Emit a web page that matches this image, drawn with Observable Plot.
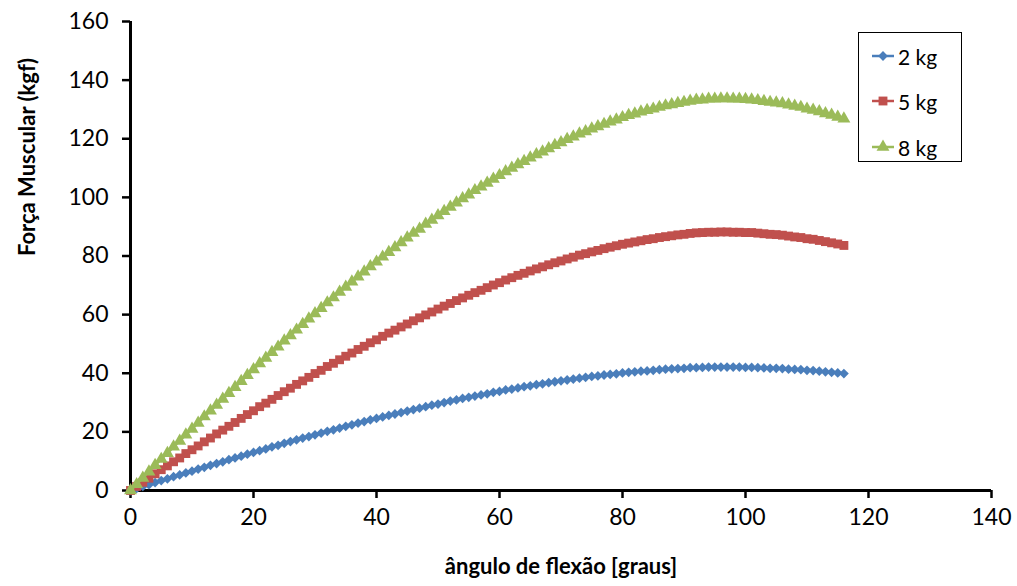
<!DOCTYPE html>
<html>
<head>
<meta charset="utf-8">
<script src="https://cdn.jsdelivr.net/npm/d3@7"></script>
<script src="https://cdn.jsdelivr.net/npm/@observablehq/plot@0.6"></script>
<style>
  html, body { margin: 0; padding: 0; background: #fff; }
  #wrap { position: relative; width: 1017px; height: 586px; font-family: Lato, "Liberation Sans", sans-serif; }
  #legend { position: absolute; left: 858px; top: 32px; width: 104px; height: 130px; border: 1.5px solid #000; background: #fff; box-sizing: border-box; }
  .item { position: absolute; left: 12px; height: 24px; display: flex; align-items: center; font-size: 21px; color: #000; }
  .item svg { margin-right: 3px; }
</style>
</head>
<body>
<div id="wrap"></div>
<script>
const angles = [0,1,2,3,4,5,6,7,8,9,10,11,12,13,14,15,16,17,18,19,20,21,22,23,24,25,26,27,28,29,30,31,32,33,34,35,36,37,38,39,40,41,42,43,44,45,46,47,48,49,50,51,52,53,54,55,56,57,58,59,60,61,62,63,64,65,66,67,68,69,70,71,72,73,74,75,76,77,78,79,80,81,82,83,84,85,86,87,88,89,90,91,92,93,94,95,96,97,98,99,100,101,102,103,104,105,106,107,108,109,110,111,112,113,114,115,116];

const force2kg = [0,0.7,1.4,2.0,2.7,3.4,4.0,4.7,5.3,6.0,6.6,7.3,7.9,8.6,9.2,9.8,10.5,11.1,11.7,12.4,13.0,13.6,14.2,14.9,15.4,16.1,16.7,17.3,17.9,18.4,19.0,19.6,20.2,20.7,21.3,21.9,22.4,23.0,23.5,24.1,24.6,25.1,25.6,26.1,26.6,27.1,27.6,28.1,28.6,29.1,29.5,30.0,30.5,30.9,31.4,31.8,32.2,32.6,33.0,33.5,33.8,34.3,34.6,35.0,35.4,35.7,36.1,36.4,36.8,37.1,37.4,37.7,38.0,38.3,38.6,38.9,39.1,39.4,39.6,39.8,40.1,40.3,40.5,40.7,40.8,41.0,41.2,41.4,41.5,41.6,41.7,41.9,41.9,42.0,42.1,42.1,42.1,42.1,42.1,42.1,42.0,42.0,41.9,41.8,41.7,41.7,41.6,41.4,41.3,41.2,41.0,40.9,40.7,40.5,40.3,40.1,39.9];

const force5kg = [0,1.4,2.8,4.2,5.7,7.1,8.4,9.8,11.1,12.6,13.9,15.2,16.6,17.9,19.3,20.6,21.9,23.2,24.6,25.9,27.2,28.6,29.8,31.1,32.4,33.7,34.9,36.2,37.4,38.6,39.9,41.0,42.3,43.4,44.6,45.8,46.9,48.1,49.2,50.4,51.4,52.6,53.7,54.7,55.8,56.8,57.9,58.9,59.9,60.9,61.9,62.9,63.8,64.8,65.7,66.6,67.5,68.3,69.2,70.1,70.9,71.8,72.6,73.4,74.1,74.9,75.6,76.3,77.0,77.7,78.3,79.0,79.6,80.3,80.8,81.4,81.9,82.5,83.0,83.5,84.0,84.4,84.8,85.2,85.6,85.9,86.3,86.6,86.9,87.2,87.4,87.7,87.9,88.0,88.1,88.1,88.2,88.2,88.1,88.1,88.0,88.0,87.8,87.6,87.4,87.3,87.1,86.8,86.5,86.3,85.9,85.7,85.3,84.9,84.5,84.1,83.6];

const force8kg = [0,2.1,4.3,6.4,8.6,10.7,12.7,14.9,16.9,19.0,21.0,23.0,25.2,27.2,29.2,31.2,33.2,35.2,37.3,39.3,41.3,43.3,45.2,47.2,49.0,51.1,52.9,54.8,56.7,58.6,60.4,62.2,64.1,65.8,67.7,69.4,71.2,72.9,74.6,76.4,78.0,79.7,81.3,82.9,84.6,86.2,87.8,89.2,90.9,92.3,93.8,95.3,96.7,98.2,99.6,100.9,102.4,103.6,104.9,106.3,107.5,108.8,110.0,111.2,112.3,113.5,114.6,115.6,116.7,117.8,118.7,119.8,120.7,121.7,122.5,123.4,124.2,125.0,125.8,126.5,127.3,128.0,128.5,129.2,129.7,130.2,130.8,131.3,131.7,132.1,132.5,132.9,133.2,133.3,133.6,133.6,133.7,133.7,133.6,133.6,133.5,133.3,133.1,132.8,132.5,132.3,132.0,131.6,131.2,130.8,130.2,129.8,129.3,128.6,128.1,127.4,126.8];

const seriesNames = ["2 kg", "5 kg", "8 kg"];
const seriesColors = ["#4A7EBB", "#C0504D", "#9BBB59"];
const seriesSymbols = ["diamond2", "square", "triangle"];
const seriesRadius = [4.4, 5.0, 4.8];
const xTicks = [0, 20, 40, 60, 80, 100, 120, 140];
const yTicks = [0, 20, 40, 60, 80, 100, 120, 140, 160];
const xTitle = "ângulo de flexão [graus]";
const yTitle = "Força Muscular (kgf)";

const seriesValues = [force2kg, force5kg, force8kg];
const rows = seriesNames.map((name, s) => angles.map((a, i) => ({angle: a, force: seriesValues[s][i], series: name})));

const marks = [];
rows.forEach((data, s) => {
  marks.push(Plot.line(data, {x: "angle", y: "force", stroke: seriesColors[s], strokeWidth: 2.5}));
  marks.push(Plot.dot(data, {x: "angle", y: "force", symbol: () => seriesSymbols[s], r: seriesRadius[s], fill: seriesColors[s], stroke: "none"}));
});

const chart = Plot.plot({
  width: 1017,
  height: 586,
  marginLeft: 130,
  marginRight: 26,
  marginTop: 21,
  marginBottom: 96,
  style: {fontFamily: "Lato, 'Liberation Sans', sans-serif", background: "#fff", color: "#000"},
  x: {domain: [0, 140]},
  y: {domain: [0, 160]},
  marks: [
    Plot.axisX({ticks: xTicks, tickSize: 8, tickPadding: 10, fontSize: 23, strokeWidth: 2.5, label: null, tickFormat: d => String(d)}),
    Plot.axisY({ticks: yTicks, tickSize: 8, tickPadding: 14, fontSize: 23, strokeWidth: 2.5, label: null, tickFormat: d => String(d)}),
    Plot.ruleY([0], {stroke: "#000", strokeWidth: 3}),
    Plot.ruleX([0], {stroke: "#000", strokeWidth: 3}),
    ...marks,
    Plot.text([xTitle], {text: d => d, frameAnchor: "bottom", dy: 76, fontSize: 22, fontWeight: "bold", lineAnchor: "middle"}),
    Plot.text([yTitle], {text: d => d, frameAnchor: "left", dx: -103, rotate: -90, fontSize: 22, fontWeight: "bold", lineAnchor: "middle"})
  ]
});

const wrap = document.getElementById("wrap");
wrap.appendChild(chart);

const legend = document.createElement("div");
legend.id = "legend";
const itemTops = [11, 56, 102];
seriesNames.forEach((name, s) => {
  const item = document.createElement("div");
  item.className = "item";
  item.style.top = itemTops[s] + "px";
  const sym = d3.symbol(d3["symbol" + {diamond2: "Diamond2", square: "Square", triangle: "Triangle"}[seriesSymbols[s]]], Math.PI * seriesRadius[s] ** 2)();
  item.innerHTML = `<svg width="24" height="24"><line x1="1" x2="23" y1="12" y2="12" stroke="${seriesColors[s]}" stroke-width="2.5"/><path d="${sym}" transform="translate(12,12)" fill="${seriesColors[s]}"/></svg><span>${name}</span>`;
  legend.appendChild(item);
});
wrap.appendChild(legend);
</script>
</body>
</html>
